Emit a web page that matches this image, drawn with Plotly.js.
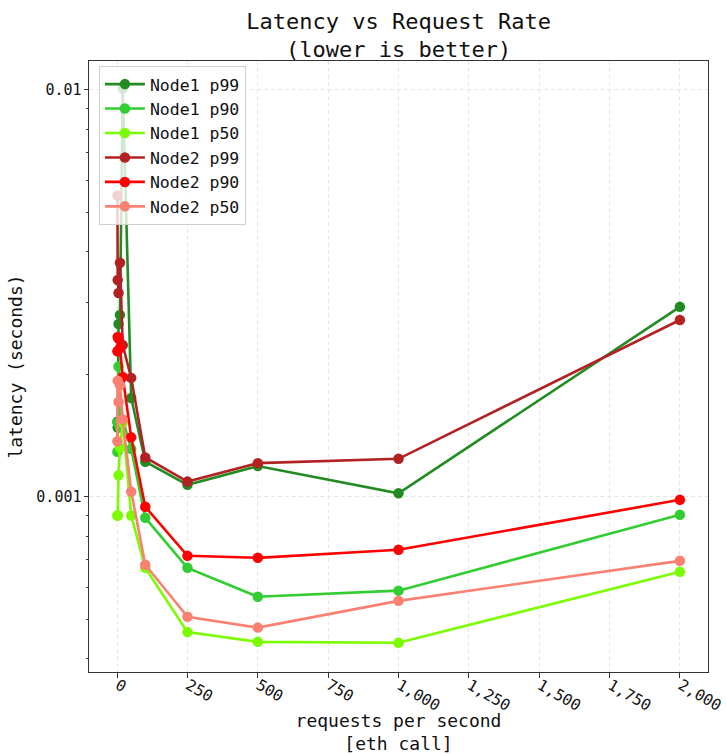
<!DOCTYPE html>
<html>
<head>
<meta charset="utf-8">
<script src="https://cdn.plot.ly/plotly-3.0.1.min.js"></script>
<style>html,body{margin:0;padding:0;background:#fff;}#chart{width:726px;height:754px;}</style>
</head>
<body>
<div id="chart"></div>
<script>
// requests per second
const rates = [1, 2, 5, 10, 20, 50, 100, 250, 500, 1000, 2000];

// latency in seconds
const node1P99 = [0.00153, 0.00148, 0.00266, 0.00280, 0.0101, 0.00175, 0.00122, 0.00107, 0.00119, 0.00102, 0.00293];
const node1P90 = [0.00129, 0.00152, 0.00209, 0.00148, 0.00155, 0.00131, 0.000888, 0.000669, 0.000568, 0.000588, 0.000903];
const node1P50 = [0.00090, 0.00090, 0.00113, 0.00132, 0.00152, 0.00090, 0.000669, 0.000465, 0.000440, 0.000438, 0.000654];
const node2P99 = [0.00550, 0.00341, 0.00317, 0.00376, 0.00236, 0.00196, 0.00125, 0.00109, 0.00121, 0.00124, 0.00272];
const node2P90 = [0.00228, 0.00247, 0.00245, 0.00232, 0.00197, 0.00140, 0.000945, 0.000716, 0.000708, 0.000741, 0.000983];
const node2P50 = [0.00137, 0.00193, 0.00171, 0.00188, 0.00155, 0.00103, 0.000681, 0.000507, 0.000477, 0.000555, 0.000696];

const seriesNames = ['Node1 p99', 'Node1 p90', 'Node1 p50', 'Node2 p99', 'Node2 p90', 'Node2 p50'];
const seriesValues = [node1P99, node1P90, node1P50, node2P99, node2P90, node2P50];
const seriesColors = ['#228B22', '#32CD32', '#7CFC00', '#B22222', '#FF0000', '#FA8072'];

const xTicks = [0, 250, 500, 750, 1000, 1250, 1500, 1750, 2000];
const yMajor = [0.001, 0.01];
const yMajorText = ['0.001', '0.01'];
const yMinor = [0.0004, 0.0005, 0.0006, 0.0007, 0.0008, 0.0009, 0.002, 0.003, 0.004, 0.005, 0.006, 0.007, 0.008, 0.009];

const FONT = 'DejaVu Sans Mono, monospace';

const traces = seriesNames.map((n, i) => ({
  x: rates,
  y: seriesValues[i],
  name: n,
  type: 'scatter',
  mode: 'lines+markers',
  line: {color: seriesColors[i], width: 2.6},
  marker: {color: seriesColors[i], size: 10.5}
}));

const axisCommon = {
  showline: true, mirror: true, linecolor: '#333', linewidth: 1,
  ticks: 'outside', ticklen: 4.5, tickwidth: 1, tickcolor: '#333',
  showgrid: true, gridcolor: '#e6e6e6', griddash: '4px,3px', gridwidth: 0.8,
  zeroline: false,
  tickfont: {family: FONT, size: 15, color: '#111'}
};

const layout = {
  width: 726, height: 754,
  margin: {l: 89, r: 18, t: 61, b: 82},
  paper_bgcolor: '#fff', plot_bgcolor: '#fff',
  font: {family: FONT, color: '#111'},
  title: {
    text: 'Latency vs Request Rate<br>(lower is better)',
    font: {family: FONT, size: 22, color: '#111'},
    x: 0.549, xanchor: 'center', yref: 'container', y: 0.962, yanchor: 'top'
  },
  showlegend: true,
  legend: {
    x: 0.016, y: 0.992, xanchor: 'left', yanchor: 'top',
    bgcolor: 'rgba(255,255,255,0.8)', bordercolor: '#d0d0d0', borderwidth: 1,
    font: {family: FONT, size: 16.5, color: '#111'},
    itemwidth: 40
  },
  xaxis: Object.assign({}, axisCommon, {
    range: [-100, 2100],
    tickvals: xTicks,
    tickformat: ',d',
    tickangle: 30,
    ticklabelshift: 1,
    ticklabelstandoff: -7,
    ticklabeloverflow: 'allow',
    tickfont: {family: FONT, size: 15.5, color: '#111'},
    title: {text: 'requests per second<br>[eth call]', font: {family: FONT, size: 18, color: '#111'}, standoff: 16}
  }),
  yaxis: Object.assign({}, axisCommon, {
    type: 'log',
    range: [-3.4306, -1.9288],
    tickvals: yMajor,
    ticktext: yMajorText,
    ticklabelstandoff: -1,
    minor: {tickvals: yMinor, ticks: 'outside', ticklen: 2.5, tickcolor: '#333', showgrid: false},
    title: {text: 'latency (seconds)', font: {family: FONT, size: 18, color: '#111'}, standoff: 9}
  })
};

Plotly.newPlot('chart', traces, layout, {displayModeBar: false, responsive: false});
</script>
</body>
</html>
